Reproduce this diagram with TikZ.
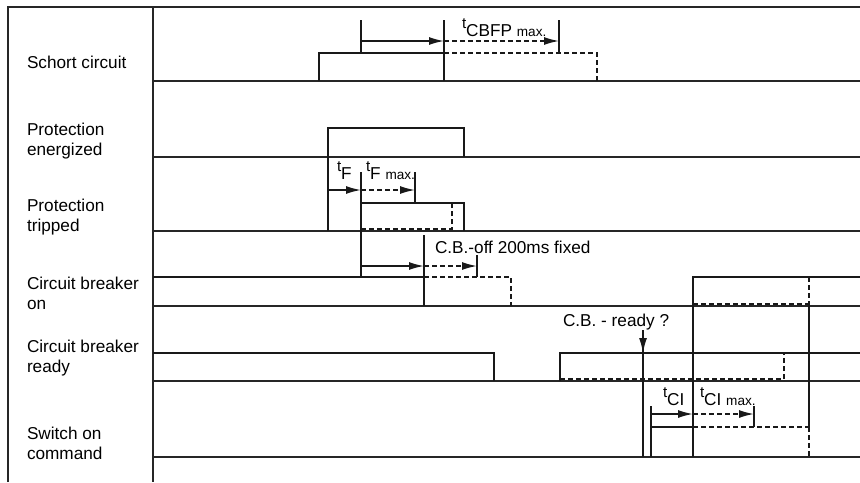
\documentclass[tikz,border=0pt]{standalone}
\usepackage{fontspec}
\setmainfont{Liberation Sans}
\usetikzlibrary{arrows.meta}
\newcommand\smallt{\raisebox{4pt}{\fontsize{7.6}{8}\selectfont t}}
\newcommand\maxt{{\fontsize{6.8}{8}\selectfont max.}}

\begin{document}
\begin{tikzpicture}[
    x=0.5pt, y=-0.5pt,
    font=\fontsize{8.6}{10}\selectfont,
 mylabel/.style = {
        anchor=west, align=left, inner sep=0pt, outer sep=0pt},
 timelabel/.style = {
        anchor=base west, inner sep=0pt, outer sep=0pt},
  frame/.style = {line width=1pt, black!85},
 signal/.style = {line width=1pt, black!90},
  maybe/.style = {line width=0.8pt, black!90, dash pattern=on 2.5pt off 1.5pt},
 marker/.style = {line width=0.8pt, black!90},
  arrow/.style = {line width=0.8pt, black!90, -{Latex[length=7.5pt,width=4pt]}},
 darrow/.style = {arrow, dash pattern=on 2.5pt off 1.5pt}
                    ]
\useasboundingbox (0,0) rectangle (860,482);
% the frame and the baselines
\draw[frame] (8,482) -- (8,7) -- (860,7);
\draw[frame] (153,7) -- (153,482);
\foreach \y in {81,157,231,306,381,457}
    \draw[frame] (153,\y) -- (860,\y);

% the labels on the left
\node (l1) [mylabel] at (27,62)  {Schort circuit};
\node (l2) [mylabel] at (27,141) {Protection\\energized};
\node (l3) [mylabel] at (27,217) {Protection\\tripped};
\node (l4) [mylabel] at (27,293) {Circuit breaker\\on};
\node (l5) [mylabel] at (27,358) {Circuit breaker\\ready};
\node (l6) [mylabel] at (27,443) {Switch on\\command};

% schort circuit
\draw[signal] (319,81) -- (319,53) -- (444,53);
\draw[signal] (444,20) -- (444,81);
\draw[maybe]  (444,53) -- (597,53) -- (597,81);
\draw[marker] (361,20) -- (361,53);
\draw[marker] (559,20) -- (559,53);
\draw[arrow]  (361,41) -- (444,41);
\draw[darrow] (444,41) -- (559,41);
\node (tcbfp) [timelabel] at (462,36) {\smallt CBFP \maxt};

% protection energized
\draw[signal] (328,231) -- (328,128) -- (464,128) -- (464,157);

% protection tripped
\draw[signal] (361,231) -- (361,203) -- (464,203) -- (464,231);
\draw[maybe]  (361,229) -- (452,229) -- (452,203);
\draw[marker] (361,172) -- (361,277);
\draw[marker] (415,172) -- (415,203);
\draw[arrow]  (328,190) -- (361,190);
\draw[darrow] (361,190) -- (415,190);
\node (tf)    [timelabel] at (337,179) {\smallt F};
\node (tfmax) [timelabel] at (366,179) {\smallt F \maxt};

% circuit breaker on
\draw[signal] (153,277) -- (424,277);
\draw[signal] (424,235) -- (424,306);
\draw[maybe]  (424,277) -- (511,277) -- (511,306);
\draw[marker] (477,255) -- (477,277);
\draw[arrow]  (361,266) -- (424,266);
\draw[darrow] (424,266) -- (477,266);
\node (cboff) [timelabel] at (435,253) {C.B.-off 200ms fixed};
\draw[signal] (693,306) -- (693,277) -- (860,277);
\draw[maybe]  (693,304) -- (809,304);

% circuit breaker ready
\draw[signal] (153,353) -- (494,353) -- (494,381);
\draw[signal] (560,381) -- (560,353) -- (860,353);
\draw[maybe]  (560,379) -- (784,379) -- (784,353);
\node (cbready) [timelabel] at (563,326) {C.B. - ready ?};
\draw[marker] (643,330) -- (643,457);
\draw[arrow]  (643,330) -- (643,353);

% switch on command
\draw[signal] (651,406) -- (651,457);
\draw[signal] (651,427) -- (693,427);
\draw[maybe]  (693,427) -- (809,427);
\draw[signal] (693,277) -- (693,457);
\draw[maybe]  (809,277) -- (809,306);
\draw[signal] (809,306) -- (809,427);
\draw[maybe]  (809,427) -- (809,457);
\draw[marker] (754,406) -- (754,427);
\draw[arrow]  (651,414) -- (693,414);
\draw[darrow] (693,414) -- (754,414);
\node (tci)    [timelabel] at (663,405) {\smallt CI};
\node (tcimax) [timelabel] at (700,405) {\smallt CI \maxt};
\end{tikzpicture}
\end{document}
